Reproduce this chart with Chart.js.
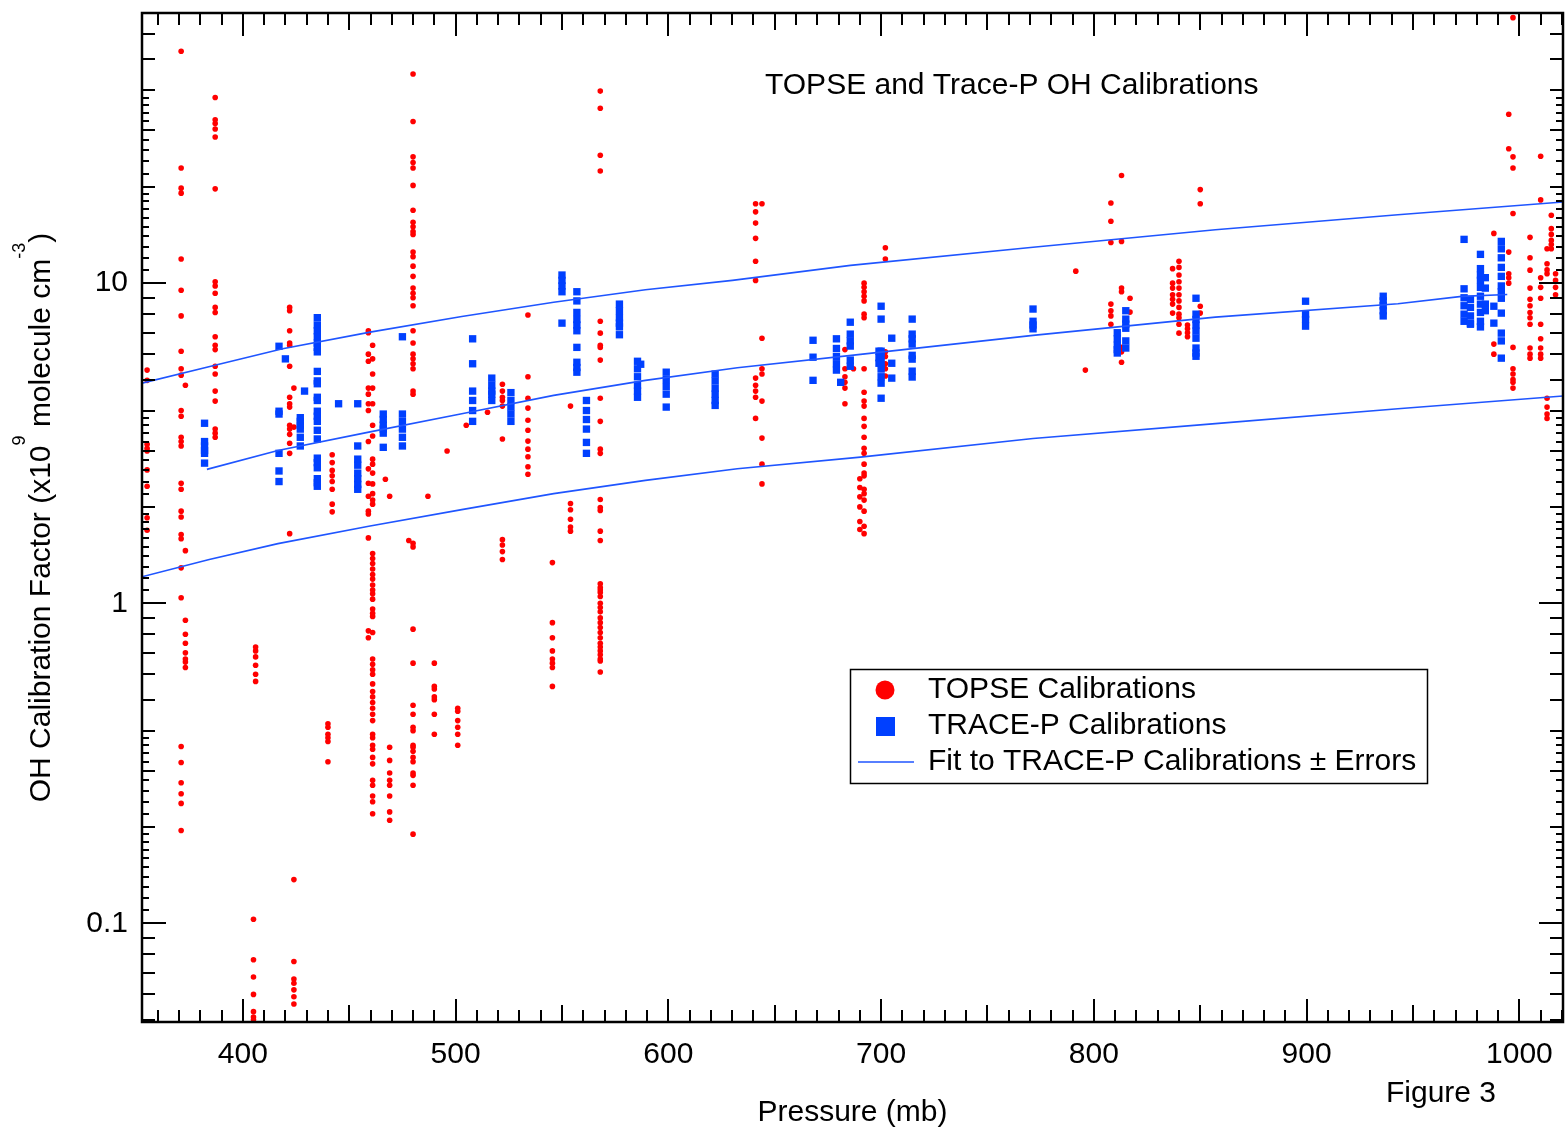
<!DOCTYPE html>
<html>
<head>
<meta charset="utf-8">
<title>TOPSE and Trace-P OH Calibrations</title>
<script src="https://cdn.jsdelivr.net/npm/chart.js@4.4.1/dist/chart.umd.min.js"></script>
<style>
  html, body { margin: 0; padding: 0; background: #fff; }
  canvas { display: block; }
</style>
</head>
<body>
<canvas id="myChart" width="1565" height="1134"></canvas>
<script>
"use strict";

// TOPSE calibrations: one pressure (mb) per column, the factors seen in that column
const topsePressure = [355, 371, 373, 387, 405, 406, 422, 424, 440, 442,
    459, 461, 467, 469, 478, 480, 487, 490, 496, 501,
    505, 515, 522, 534, 545.5, 554, 568, 641, 644, 683,
    687, 692, 690, 702, 791.5, 796, 808, 813, 817, 837,
    840, 844, 850, 988, 995, 997, 1005, 1010, 1013, 1015, 1017];
const topseFactor = [
    [5.35, 4.97, 3.14, 3.05, 2.99, 2.61, 2.32, 1.85, 1.69],
    [53, 22.9, 19.8, 19.1, 11.9, 9.5, 7.9, 6.13, 5.4, 5.16, 4.0, 3.84, 3.3, 3.2, 3.1, 2.37, 2.27, 1.94, 1.86, 1.64, 1.59, 1.29, 1.04, 0.357, 0.318, 0.275, 0.254, 0.237, 0.195],
    [4.8, 1.46, 0.885, 0.8, 0.75, 0.70, 0.67, 0.655, 0.63],
    [38, 32.4, 31.5, 30.3, 28.6, 19.7, 10.1, 9.8, 9.3, 8.4, 8.1, 6.8, 6.4, 6.2, 5.5, 5.2, 4.6, 4.28, 3.5, 3.4, 3.3],
    [0.103, 0.077, 0.068, 0.060, 0.053, 0.051, 0.050],
    [0.73, 0.71, 0.68, 0.64, 0.60, 0.57],
    [8.4, 8.2, 7.1, 6.5, 6.4, 5.5, 4.4, 4.2, 4.1, 3.6, 3.5, 3.37, 3.16, 2.94, 1.65],
    [4.7, 3.55, 0.137, 0.076, 0.067, 0.065, 0.062, 0.059, 0.056],
    [0.42, 0.41, 0.39, 0.38, 0.37, 0.32],
    [2.91, 2.75, 2.6, 2.5, 2.4, 2.27, 2.04, 1.93],
    [7.1, 7.0, 6.0, 5.7, 4.7, 4.5, 4.2, 4.0, 3.2, 2.63, 2.37, 2.16, 1.94, 1.9, 1.6, 0.82, 0.78],
    [6.4, 5.8, 5.2, 4.7, 4.2, 3.6, 3.33, 2.82, 2.72, 2.55, 2.36, 2.2, 2.1, 2.04, 1.43, 1.38, 1.33, 1.28, 1.23, 1.19, 1.14, 1.1, 1.07, 1.03, 0.96, 0.93, 0.91, 0.81, 0.67, 0.645, 0.62, 0.60, 0.56, 0.53, 0.51, 0.49, 0.47, 0.45, 0.43, 0.39, 0.38, 0.36, 0.35, 0.33, 0.315, 0.28, 0.27, 0.25, 0.24, 0.22],
    [2.44],
    [2.16, 0.355, 0.323, 0.295, 0.28, 0.27, 0.25, 0.223, 0.21],
    [1.57],
    [45, 32, 24.8, 23.8, 22.9, 20.2, 16.9, 15.5, 15.0, 14.5, 14.2, 12.5, 12.1, 11.3, 10.5, 9.65, 9.3, 9.0, 8.5, 7.1, 6.5, 6.0, 5.8, 5.6, 5.4, 4.6, 4.5, 1.54, 1.5, 0.83, 0.65, 0.48, 0.45, 0.41, 0.40, 0.36, 0.355, 0.345, 0.33, 0.32, 0.295, 0.29, 0.27, 0.19],
    [2.16],
    [0.65, 0.55, 0.54, 0.51, 0.50, 0.45, 0.39],
    [2.99],
    [0.47, 0.46, 0.43, 0.41, 0.39, 0.36],
    [3.6],
    [3.95],
    [4.83, 4.6, 4.4, 4.3, 4.13, 3.26, 1.58, 1.52, 1.45, 1.37],
    [7.95, 5.1, 4.37, 4.07, 3.73, 3.47, 3.21, 3.03, 2.87, 2.67, 2.53],
    [1.34, 0.87, 0.78, 0.71, 0.67, 0.65, 0.63, 0.55],
    [4.13, 2.05, 1.96, 1.83, 1.73, 1.68],
    [39.8, 35.2, 25.1, 22.4, 7.6, 6.98, 6.4, 6.3, 5.75, 4.37, 3.7, 3.03, 2.94, 2.11, 1.99, 1.95, 1.68, 1.57, 1.15, 1.12, 1.1, 1.08, 1.05, 1.0, 0.97, 0.94, 0.9, 0.87, 0.84, 0.81, 0.78, 0.75, 0.73, 0.71, 0.69, 0.67, 0.66, 0.61],
    [17.7, 16.7, 15.4, 13.8, 11.7, 10.2, 5.05, 4.8, 4.6, 4.4, 3.78],
    [17.7, 6.73, 5.4, 5.2, 4.28, 3.28, 2.72, 2.36],
    [6.2, 5.4, 5.1, 4.9, 4.7, 4.2],
    [5.4],
    [10.0, 9.7, 9.4, 9.1, 8.8, 8.0, 7.8, 5.4, 4.56, 4.28, 4.13, 3.78, 3.57, 3.3, 3.05, 2.94, 2.72, 2.55, 2.5, 2.27, 2.2, 2.1, 1.94, 1.74, 1.65],
    [2.45, 2.3, 2.15, 2.0, 1.8, 1.7],
    [12.9, 11.9, 6.1, 5.9, 5.6, 5.4, 5.13],
    [10.9],
    [5.35],
    [17.8, 15.6, 13.4, 8.6, 8.2, 7.9, 7.44],
    [21.7, 13.5, 9.65, 9.4, 6.3, 6.1, 5.66],
    [8.97, 8.12],
    [11.1, 10, 9.65, 9.2, 8.9, 8.6, 8.06],
    [11.7, 11.2, 10.6, 10.1, 9.65, 9.2, 8.8, 8.4, 8.0, 7.8, 7.44, 6.98],
    [7.4, 7.2, 7.0, 6.8],
    [19.6, 17.7, 8.47, 8.06],
    [14.3, 6.45, 6.0],
    [33.7, 26.3, 12.5, 10.7, 10.4, 10.0],
    [67.5, 24.8, 22.9, 16.5, 6.3, 5.4, 5.2, 5.0, 4.9, 4.7],
    [13.9, 12.0, 10.98, 9.65, 8.9, 8.5, 8.1, 7.8, 7.44, 6.27, 6.0, 5.83],
    [24.9, 18.2, 10.4, 9.7, 8.97, 7.44, 6.7, 6.27, 6.0, 5.83],
    [12.8, 11.5, 11.0, 10.7, 4.37, 4.1, 3.9, 3.78],
    [16.3, 14.8, 14.2, 13.6, 13.2, 12.8],
    [10.7, 10.2, 9.7, 9.2]
];

// TRACE-P calibrations, same layout
const tracePressure = [382, 417, 420, 427, 429, 435, 445, 454, 466, 475,
    508, 517, 526, 550, 557, 561.5, 577, 585.5, 587, 599,
    622, 668, 679, 681, 685.5, 699, 700, 705, 714.6, 771.4,
    811, 815, 848, 899.5, 936, 974, 977, 981.7, 984, 988, 991.5];
const traceFactor = [
    [3.65, 3.2, 3.1, 3.0, 2.94, 2.74],
    [6.35, 3.98, 3.9, 2.94, 2.59, 2.4],
    [5.8],
    [3.8, 3.7, 3.6, 3.5, 3.3, 3.1],
    [4.6],
    [7.8, 7.4, 7.1, 6.8, 6.5, 6.3, 6.1, 5.3, 4.95, 4.85, 4.4, 4.3, 3.98, 3.84, 3.7, 3.47, 3.26, 2.84, 2.75, 2.65, 2.45, 2.38, 2.32],
    [4.2],
    [4.2, 3.1, 2.82, 2.7, 2.55, 2.45, 2.35, 2.27],
    [3.9, 3.75, 3.6, 3.5, 3.4, 3.07],
    [6.8, 3.9, 3.7, 3.5, 3.3, 3.1],
    [6.7, 5.6, 4.6, 4.3, 4.0, 3.7],
    [5.05, 4.8, 4.6, 4.5, 4.3],
    [4.55, 4.3, 4.1, 3.9, 3.7],
    [10.6, 10.2, 9.8, 9.4, 7.5],
    [9.4, 8.8, 8.1, 7.7, 7.4, 7.1, 6.3, 5.66, 5.45, 5.27],
    [4.3, 4.0, 3.75, 3.5, 3.18, 2.94],
    [8.6, 8.2, 7.8, 7.5, 7.3, 6.9],
    [5.7, 5.4, 5.1, 4.8, 4.6, 4.4],
    [5.58],
    [5.27, 5.0, 4.75, 4.5, 4.1],
    [5.2, 4.95, 4.7, 4.5, 4.3, 4.15],
    [6.63, 5.87, 4.97],
    [6.7, 6.25, 5.9, 5.6, 5.35],
    [4.9],
    [7.55, 6.93, 6.6, 6.36, 5.75, 5.5],
    [6.13, 5.85, 5.62],
    [8.47, 7.72, 6.13, 5.9, 5.62, 5.39, 5.1, 4.87, 4.37],
    [6.73, 5.62, 5.05],
    [7.72, 6.93, 6.7, 6.45, 5.95, 5.79, 5.31, 5.09],
    [8.3, 7.6, 7.4, 7.2],
    [7.0, 6.7, 6.4, 6.2, 6.05],
    [8.2, 7.72, 7.45, 7.23, 6.6, 6.27],
    [8.97, 8.0, 7.7, 7.4, 7.08, 6.73, 6.27, 6.05, 5.91],
    [8.78, 8.0, 7.7, 7.34],
    [9.1, 8.8, 8.5, 8.2, 7.9],
    [13.7, 9.6, 9.0, 8.5, 8.0, 7.6],
    [8.9, 8.4, 7.9, 7.5, 7.44],
    [12.3, 11.1, 10.6, 10.2, 9.7, 9.1, 8.6, 8.1, 7.6, 7.3],
    [10.4, 9.65, 8.6, 8.2],
    [8.47, 7.5],
    [13.5, 12.8, 12.0, 11.2, 10.5, 9.8, 9.4, 8.97, 8.06, 6.98, 6.6, 5.83]
];

// fit to TRACE-P and the +/- error curves
const fitPressure = [383.1, 416.5, 459.8, 502.9, 546.1, 589.2, 632.4, 690.3, 771.4, 857.1, 942.9, 972.9, 994.3];
const fitFactor = [2.62, 3.00, 3.43, 3.91, 4.46, 4.97, 5.44, 5.99, 6.87, 7.83, 8.62, 9.09, 9.22];
const upperPressure = [352.6, 386.4, 418.7, 459.8, 502.9, 546.1, 589.2, 630.1, 685.6, 771.4, 857.1, 942.9, 1020.5];
const upperFactor = [4.87, 5.53, 6.24, 7.03, 7.87, 8.72, 9.54, 10.2, 11.36, 12.95, 14.68, 16.35, 17.92];
const lowerPressure = [352.6, 384.2, 416.5, 459.8, 502.9, 546.1, 589.2, 632.4, 690.3, 771.4, 857.1, 942.9, 1020.5];
const lowerFactor = [1.21, 1.369, 1.536, 1.743, 1.961, 2.20, 2.42, 2.63, 2.86, 3.27, 3.64, 4.05, 4.44];

const xMajorTicks = [400, 500, 600, 700, 800, 900, 1000];
const yMajorTicks = [0.1, 1, 10];

const FONT = "'Liberation Sans', Arial, sans-serif";
const RED = "#ff0000";
const BLUE = "#0040ff";
const LINE_BLUE = "#1f55ff";

function toPoints(pressures, factors) {
    let pts = [];
    for (let i = 0; i < pressures.length; i++) {
        for (let j = 0; j < factors[i].length; j++) {
            pts.push({x: pressures[i], y: factors[i][j]});
        }
    }
    return pts;
}

function toLine(pressures, factors) {
    return pressures.map(function (p, i) { return {x: p, y: factors[i]}; });
}

// log axis minor ticks: 2..9 of each decade get a medium tick,
// 1.1..1.9 and 2.2..3.8 a short one
function yMinorTicks(min, max) {
    let out = [];
    let steps = [];
    for (let m = 11; m <= 19; m++) steps.push([m / 10, 7]);
    for (let m = 22; m <= 38; m += 2) if (m !== 30) steps.push([m / 10, 7]);
    for (let m = 2; m <= 9; m++) steps.push([m, 13]);
    [0.01, 0.1, 1, 10].forEach(function (d) {
        steps.forEach(function (s) {
            let v = s[0] * d;
            if (v >= min && v <= max) out.push([v, s[1]]);
        });
    });
    return out;
}

function unpad(scale) {
    scale.paddingTop = 0;
    scale.paddingBottom = 0;
    scale.paddingLeft = 0;
    scale.paddingRight = 0;
}

// chart.js keeps a few px free on the right, push the plot out to the frame
const stretchRight = {
    id: "stretchRight",
    afterLayout(chart) {
        const a = chart.chartArea;
        const xs = chart.scales.x;
        a.right = chart.width - 2;
        a.width = a.right - a.left;
        xs.right = a.right;
        xs.width = xs.right - xs.left;
        xs.configure();
    }
};

const decorations = {
    id: "decorations",
    afterDatasetsDraw(chart) {
        const ctx = chart.ctx;
        const a = chart.chartArea;
        const xs = chart.scales.x;
        const ys = chart.scales.y;

        ctx.save();
        ctx.strokeStyle = "#000";
        ctx.lineWidth = 2;
        ctx.beginPath();
        for (let p = 360; p <= 1020; p += 10) {
            let len = (p % 100 === 0) ? 23 : (p % 50 === 0 ? 17 : 12);
            let px = Math.round(xs.getPixelForValue(p));
            ctx.moveTo(px, a.bottom); ctx.lineTo(px, a.bottom - len);
            ctx.moveTo(px, a.top); ctx.lineTo(px, a.top + len);
        }
        yMinorTicks(ys.min, ys.max).concat(yMajorTicks.map(function (v) { return [v, 24]; })).forEach(function (t) {
            let py = Math.round(ys.getPixelForValue(t[0]));
            ctx.moveTo(a.left, py); ctx.lineTo(a.left + t[1], py);
            ctx.moveTo(a.right, py); ctx.lineTo(a.right - t[1], py);
        });
        ctx.stroke();
        ctx.lineWidth = 2.5;
        ctx.strokeRect(a.left, a.top, a.right - a.left, a.bottom - a.top);

        // texts
        ctx.fillStyle = "#000";
        ctx.textBaseline = "middle";
        ctx.textAlign = "left";
        ctx.font = "30px " + FONT;
        ctx.fillText("TOPSE and Trace-P OH Calibrations", 765, 86);
        ctx.fillText("Figure 3", 1386, 1094);

        // legend box
        ctx.lineWidth = 1.5;
        ctx.strokeRect(850.5, 669.5, 577, 114);
        ctx.fillStyle = RED;
        ctx.beginPath();
        ctx.arc(885, 690, 9.5, 0, Math.PI * 2);
        ctx.fill();
        ctx.fillStyle = BLUE;
        ctx.fillRect(876, 717, 19, 19);
        ctx.strokeStyle = LINE_BLUE;
        ctx.lineWidth = 1.5;
        ctx.beginPath();
        ctx.moveTo(858, 762); ctx.lineTo(914, 762);
        ctx.stroke();
        ctx.fillStyle = "#000";
        ctx.fillText("TOPSE Calibrations", 928, 690);
        ctx.fillText("TRACE-P Calibrations", 928, 726);
        ctx.fillText("Fit to TRACE-P Calibrations \u00b1 Errors", 928, 762);

        // y title with superscripts
        const parts = [
            ["OH Calibration Factor (x10", false],
            ["9", true],
            [" molecule cm", false],
            ["-3", true],
            [")", false]
        ];
        const mainFont = "30px " + FONT;
        const supFont = "18px " + FONT;
        let total = 0;
        parts.forEach(function (p) {
            ctx.font = p[1] ? supFont : mainFont;
            total += ctx.measureText(p[0]).width;
        });
        ctx.translate(50, (a.top + a.bottom) / 2);
        ctx.rotate(-Math.PI / 2);
        ctx.textBaseline = "alphabetic";
        let x = -total / 2;
        parts.forEach(function (p) {
            ctx.font = p[1] ? supFont : mainFont;
            ctx.fillText(p[0], x, p[1] ? -25 : 0);
            x += ctx.measureText(p[0]).width;
        });
        ctx.restore();
    }
};

const chart = new Chart(document.getElementById("myChart"), {
    type: "scatter",
    data: {
        datasets: [
            {
                label: "Fit to TRACE-P Calibrations",
                data: toLine(fitPressure, fitFactor),
                showLine: true, pointRadius: 0, borderColor: LINE_BLUE, borderWidth: 1.6,
                order: 1
            },
            {
                label: "Fit + error",
                data: toLine(upperPressure, upperFactor),
                showLine: true, pointRadius: 0, borderColor: LINE_BLUE, borderWidth: 1.6,
                order: 1
            },
            {
                label: "Fit - error",
                data: toLine(lowerPressure, lowerFactor),
                showLine: true, pointRadius: 0, borderColor: LINE_BLUE, borderWidth: 1.6,
                order: 1
            },
            {
                label: "TRACE-P Calibrations",
                data: toPoints(tracePressure, traceFactor),
                pointStyle: "rect", pointRadius: 5.2, pointBackgroundColor: BLUE,
                pointBorderWidth: 0, borderColor: BLUE,
                order: 2
            },
            {
                label: "TOPSE Calibrations",
                data: toPoints(topsePressure, topseFactor),
                pointStyle: "circle", pointRadius: 2.8, pointBackgroundColor: RED,
                pointBorderWidth: 0, borderColor: RED,
                order: 3
            }
        ]
    },
    options: {
        responsive: false,
        devicePixelRatio: 1,
        animation: false,
        layout: { padding: { top: 13, right: 2, left: 0, bottom: 0 } },
        plugins: { legend: { display: false }, tooltip: { enabled: false } },
        scales: {
            x: {
                type: "linear",
                min: 352.6,
                max: 1020.5,
                grid: { display: false, drawTicks: false },
                border: { display: false },
                ticks: {
                    color: "#000", padding: 15, autoSkip: false, maxRotation: 0,
                    font: { size: 30, family: FONT },
                    callback: function (v) { return String(v); }
                },
                title: {
                    display: true, text: "Pressure (mb)", color: "#000",
                    font: { size: 30, family: FONT }, padding: { top: 0, bottom: 3 }
                },
                afterBuildTicks: function (scale) {
                    scale.ticks = xMajorTicks.map(function (v) { return {value: v}; });
                },
                afterFit: function (scale) { scale.height = 112; unpad(scale); }
            },
            y: {
                type: "logarithmic",
                min: 0.0492,
                max: 69.8,
                grid: { display: false, drawTicks: false },
                border: { display: false },
                ticks: {
                    color: "#000", padding: 14, autoSkip: false,
                    font: { size: 30, family: FONT },
                    callback: function (v) { return String(v); }
                },
                afterBuildTicks: function (scale) {
                    scale.ticks = yMajorTicks.map(function (v) { return {value: v}; });
                },
                afterFit: function (scale) { scale.width = 142; unpad(scale); }
            }
        }
    },
    plugins: [stretchRight, decorations]
});
</script>
</body>
</html>
